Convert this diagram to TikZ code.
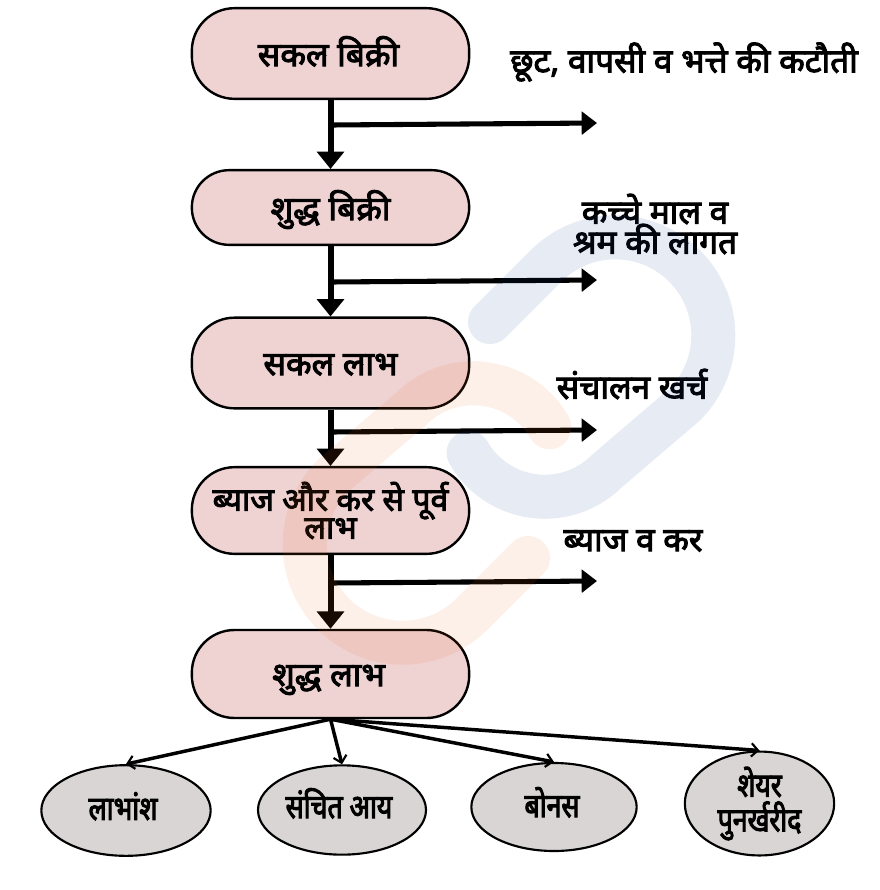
\documentclass[tikz,border=0pt]{standalone}
\usepackage{fontspec}
\usetikzlibrary{arrows.meta,shapes.geometric}
\newfontfamily\hindi[Script=Devanagari,FakeBold=3]{Noto Sans}
\newfontfamily\hindic[Script=Devanagari,FakeStretch=0.8,FakeBold=3]{Noto Sans}
\newcommand\tightlines{\setlength{\lineskiplimit}{-50pt}\setlength{\lineskip}{0pt}}
\definecolor{boxpink}{HTML}{EFD3D3}
\definecolor{ovalgrey}{HTML}{D9D5D5}
\definecolor{wmblue}{RGB}{5,55,145}
\definecolor{wmorange}{RGB}{235,105,25}
\tikzset{
  flowbox/.style={draw=black,line width=1.8pt,fill=boxpink,rectangle,rounded corners=32pt,minimum width=208pt,inner sep=0pt,align=center,font=\hindi\fontsize{25}{21}\selectfont\tightlines},
  oval/.style={draw=black,line width=1.6pt,fill=ovalgrey,ellipse,inner sep=0pt,align=center,font=\hindic\fontsize{25}{26}\selectfont\tightlines},
  sidelabel/.style={inner sep=0pt,align=center,text=black,font=\hindi\fontsize{25}{22.5}\selectfont\tightlines},
  baseat/.style={text height=#1,text depth=0pt},
  mainarrow/.style={line width=4.5pt,-{Triangle[width=20pt,length=13pt]}},
  sidearrow/.style={line width=3.8pt,-{Triangle[width=17pt,length=11.5pt]}},
  splitarrow/.style={line width=2.6pt,-{Straight Barb[width=10pt,length=5pt,line width=1.6pt]}},
  watermark/.style={line width=33pt,line cap=round,opacity=0.1}
}
\begin{document}
\begin{tikzpicture}[x=0.75pt,y=0.75pt,yscale=-1]
\useasboundingbox (0,0) rectangle (880,890);
\node[flowbox,minimum height=68pt,baseat=18.8pt] (b1) at (330.5,53.5) {सकल बिक्री\hspace*{3pt}};
\node[flowbox,minimum height=56pt,rounded corners=27.9pt,baseat=18.8pt] (b2) at (330.5,207.5) {शुद्ध बिक्री};
\node[flowbox,minimum height=68pt,baseat=18pt] (b3) at (330.5,363) {सकल लाभ};
\node[flowbox,minimum height=65pt,font=\hindi\fontsize{24}{21}\selectfont\tightlines] (b4) at (330.5,510.5) {ब्याज और कर से पूर्व\\लाभ};
\node[flowbox,minimum height=66pt,baseat=18pt] (b5) at (330.5,674) {शुद्ध लाभ\hspace*{3pt}};
\node[oval,minimum width=127pt,minimum height=68pt,baseat=14pt] (o1) at (126,810.5) {लाभांश\hspace*{4.5pt}};
\node[oval,minimum width=126pt,minimum height=67pt,baseat=12pt] (o2) at (342,810) {संचित आय\hspace*{4.5pt}};
\node[oval,minimum width=124pt,minimum height=66pt,baseat=15pt] (o3) at (554,807) {बोनस\hspace*{3pt}};
\node[oval,minimum width=112pt,minimum height=77pt] (o4) at (759.5,803.5) {शेयर\\पुनर्खरीद};
\node[sidelabel] (s1) at (684,62) {छूट, वापसी व भत्ते की कटौती};
\node[sidelabel] (s2) at (655,224) {कच्चे माल व\\श्रम की लागत};
\node[sidelabel] (s3) at (632,384) {संचालन खर्च};
\node[sidelabel] (s4) at (633,541) {ब्याज व कर};
\coordinate (j1) at (331,125);
\coordinate (j2) at (331,282);
\coordinate (j3) at (331,432);
\coordinate (j4) at (331,583);
\coordinate (t1) at (597,123);
\coordinate (t2) at (597,280);
\coordinate (t3) at (597,430);
\coordinate (t4) at (597,581);
\draw[mainarrow] (b1.south) -- (b2.north);
\draw[mainarrow] (b2.south) -- (b3.north);
\draw[mainarrow] (b3.south) -- (b4.north);
\draw[mainarrow] (b4.south) -- (b5.north);
\draw[sidearrow] (j1) -- (t1);
\draw[sidearrow] (j2) -- (t2);
\draw[sidearrow] (j3) -- (t3);
\draw[sidearrow] (j4) -- (t4);
\draw[splitarrow] (b5.south) -- (o1.north);
\draw[splitarrow] (b5.south) -- (o2.north);
\draw[splitarrow] (b5.south) -- (o3.north);
\draw[splitarrow] (b5.south) -- (o4.north);
\draw[watermark,draw=wmblue] (490,322) -- (546,266) arc[start angle=225,end angle=405,radius=73.5pt] -- (607,471) arc[start angle=45,end angle=150,radius=66pt];
\draw[watermark,draw=wmorange] (528,558) -- (472,614) arc[start angle=45,end angle=225,radius=73.5pt] -- (411,409) arc[start angle=225,end angle=330,radius=66pt];
\end{tikzpicture}
\end{document}
